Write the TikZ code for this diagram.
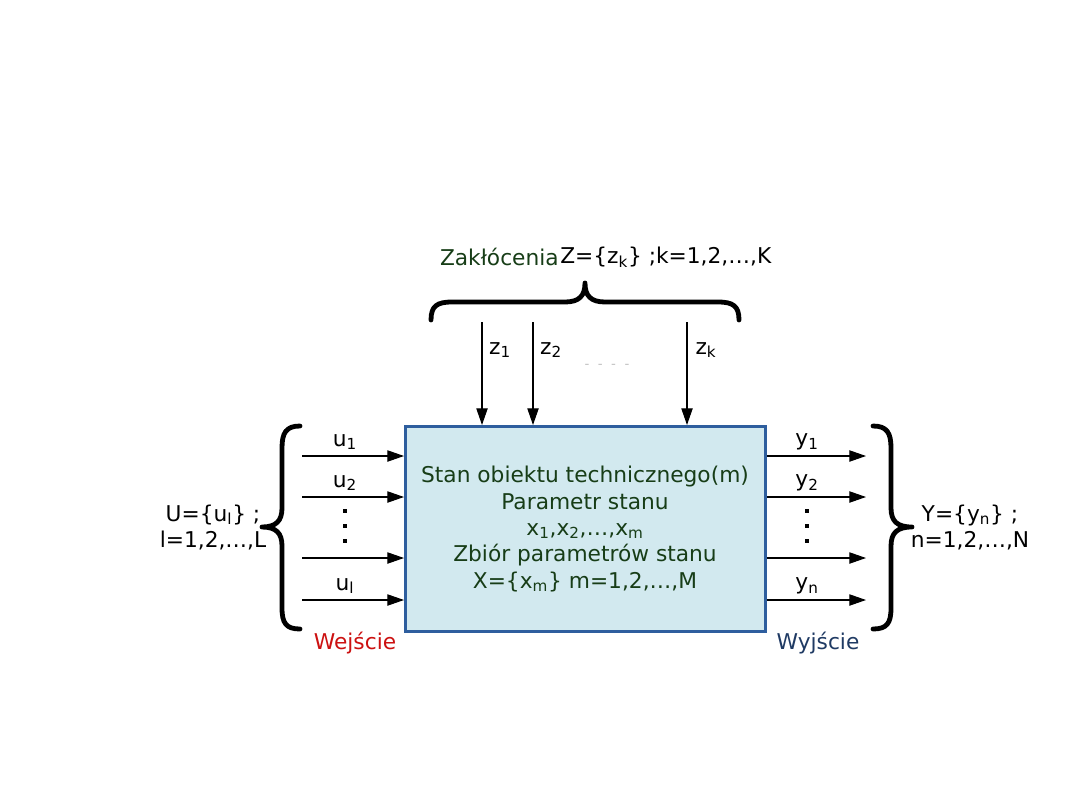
\documentclass[tikz,border=0pt]{standalone}
\usepackage{fontspec}
\setmainfont{DejaVu Sans}
\usetikzlibrary{arrows.meta}
\definecolor{boxfill}{HTML}{D2E9EF}
\definecolor{boxdraw}{HTML}{2E5E9E}
\definecolor{dgreen}{HTML}{173D17}
\definecolor{wred}{HTML}{CC1111}
\definecolor{wblue}{HTML}{1F3A63}
\tikzset{
  px/.style={x=0.75pt,y=-0.75pt},
  sig/.style={line width=0.8pt,-{Triangle[length=12.5pt,width=8.5pt]}},
  brace/.style={line width=3.6pt,line cap=round,line join=round},
  lbl/.style={font=\fontsize{16.3}{19.5}\selectfont,inner sep=0pt},
  dot/.style={rectangle,fill=black,inner sep=0pt,minimum size=3pt},
  boxtxt/.style={font=\fontsize{16.3}{19.8}\selectfont,text=dgreen,align=center,inner sep=0pt},
}
\begin{document}
\begin{tikzpicture}[px]
\useasboundingbox (0,0) rectangle (1080,810);
% main box
\node[draw=boxdraw,line width=2.2pt,fill=boxfill,minimum width=270pt,minimum height=153.75pt,inner sep=0pt,anchor=north west] (box) at (404,425) {};
\node[boxtxt] (t1) at (585,529) {Stan obiektu technicznego(m)\\Parametr stanu\\x\textsubscript{1},x\textsubscript{2},…,x\textsubscript{m}\\Zbiór parametrów stanu\\X=\{x\textsubscript{m}\} m=1,2,…,M};
% inputs
\coordinate (i1) at (302,456);
\coordinate (i2) at (302,497);
\coordinate (i3) at (302,558);
\coordinate (i4) at (302,600);
\foreach \c in {i1,i2,i3,i4} \draw[sig] (\c) -- (\c -| box.west);
\node[lbl] (u1) at (345,442) {u\textsubscript{1}};
\node[lbl] (u2) at (345,483) {u\textsubscript{2}};
\node[lbl] (ul) at (345,586) {u\textsubscript{l}};
\node[dot] (ud1) at (345,511) {};
\node[dot] (ud2) at (345,526) {};
\node[dot] (ud3) at (345,541) {};
% outputs
\coordinate (o1) at (866,456);
\coordinate (o2) at (866,497);
\coordinate (o3) at (866,558);
\coordinate (o4) at (866,600);
\foreach \c in {o1,o2,o3,o4} \draw[sig] (\c -| box.east) -- (\c);
\node[lbl] (y1) at (807,442) {y\textsubscript{1}};
\node[lbl] (y2) at (807,483) {y\textsubscript{2}};
\node[lbl] (yn) at (807,586) {y\textsubscript{n}};
\node[dot] (yd1) at (807,511) {};
\node[dot] (yd2) at (807,526) {};
\node[dot] (yd3) at (807,541) {};
% disturbances
\coordinate (z1s) at (482,322);
\coordinate (z2s) at (533,322);
\coordinate (zks) at (687,322);
\foreach \c in {z1s,z2s,zks} \draw[sig] (\c) -- (\c |- box.north);
\node[lbl] (z1) at (500,350) {z\textsubscript{1}};
\node[lbl] (z2) at (551,350) {z\textsubscript{2}};
\node[lbl] (zk) at (706,350) {z\textsubscript{k}};
\node[lbl,text=gray!50,font=\fontsize{10}{10}\selectfont] (zd) at (607,366) {-\ \ -\ \ -\ \ -};
% braces
\draw[brace] (300,426) .. controls (286,426) and (282,433) .. (282,448) -- (282,508) .. controls (282,521) and (276,527) .. (262,527) .. controls (276,527) and (282,533) .. (282,546) -- (282,608) .. controls (282,623) and (286,629) .. (300,629);
\draw[brace] (873,426) .. controls (887,426) and (891,433) .. (891,448) -- (891,508) .. controls (891,521) and (897,527) .. (912,527) .. controls (897,527) and (891,533) .. (891,546) -- (891,608) .. controls (891,623) and (887,629) .. (873,629);
\draw[brace] (431,320) .. controls (431,306) and (437,302) .. (452,302) -- (565,302) .. controls (579,302) and (585,296) .. (585,283) .. controls (585,296) and (591,302) .. (605,302) -- (718,302) .. controls (733,302) and (739,306) .. (739,320);
% side labels
\node[lbl,align=center] (U) at (213,527) {U=\{u\textsubscript{l}\} ;\\l=1,2,…,L};
\node[lbl,align=center] (Y) at (970,527) {Y=\{y\textsubscript{n}\} ;\\n=1,2,…,N};
\node[lbl,text=wred] (we) at (355,643) {Wejście};
\node[lbl,text=wblue] (wy) at (818,643) {Wyjście};
% top label
\node[lbl,text=dgreen,anchor=east] (zak) at (559,257) {Zakłócenia};
\node[lbl,anchor=west] (Z) at (560,257) {Z=\{z\textsubscript{k}\} ;k=1,2,…,K};
\end{tikzpicture}
\end{document}
